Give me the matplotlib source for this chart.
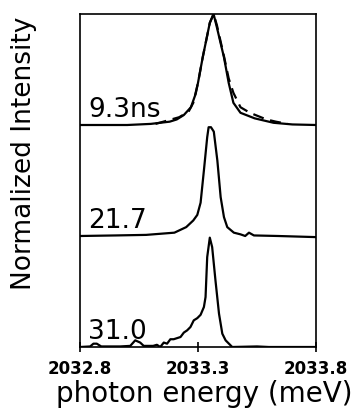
import matplotlib
matplotlib.use("Agg")
import matplotlib.pyplot as plt

# spectra (photon energy in meV, normalized intensity)
e_93 = [2032.80, 2033.00, 2033.10, 2033.14, 2033.18, 2033.21, 2033.24, 2033.27,
        2033.29, 2033.30, 2033.32, 2033.35, 2033.366, 2033.38, 2033.41, 2033.43,
        2033.45, 2033.48, 2033.54, 2033.62, 2033.70, 2033.80]
i_93 = [0.0, 0.0, 0.01, 0.02, 0.03, 0.05, 0.09, 0.16,
        0.28, 0.38, 0.61, 0.92, 1.0, 0.88, 0.61, 0.38,
        0.20, 0.11, 0.06, 0.02, 0.005, 0.0]

e_fit = [2033.12, 2033.17, 2033.22, 2033.26, 2033.28, 2033.30, 2033.32, 2033.35,
         2033.366, 2033.38, 2033.41, 2033.43, 2033.45, 2033.48, 2033.52, 2033.59,
         2033.63, 2033.68]
i_fit = [0.01, 0.04, 0.07, 0.12, 0.20, 0.38, 0.61, 0.92,
         1.0, 0.90, 0.62, 0.42, 0.29, 0.16, 0.11, 0.05,
         0.03, 0.01]

e_217 = [2032.80, 2032.95, 2033.08, 2033.14, 2033.20, 2033.25, 2033.28, 2033.297,
         2033.311, 2033.325, 2033.339, 2033.345, 2033.355, 2033.367, 2033.382,
         2033.396, 2033.41, 2033.424, 2033.452, 2033.48, 2033.50, 2033.516,
         2033.537, 2033.64, 2033.80]
i_217 = [0.0, 0.005, 0.01, 0.02, 0.03, 0.08, 0.14, 0.19,
         0.30, 0.59, 0.89, 0.98, 0.98, 0.94, 0.68,
         0.35, 0.17, 0.08, 0.03, 0.015, 0.0, 0.03,
         0.005, 0.0, -0.01]

e_310 = [2032.80, 2032.843, 2032.857, 2032.871, 2032.89, 2032.93, 2032.97, 2033.013,
         2033.034, 2033.055, 2033.07, 2033.084, 2033.11, 2033.126, 2033.14, 2033.155,
         2033.169, 2033.183, 2033.197, 2033.226, 2033.24, 2033.254, 2033.268,
         2033.282, 2033.297, 2033.311, 2033.325, 2033.332, 2033.339, 2033.350,
         2033.360, 2033.374, 2033.389, 2033.403, 2033.417, 2033.431, 2033.445,
         2033.55, 2033.60, 2033.80]
i_310 = [0.0, 0.005, 0.03, 0.03, 0.005, 0.005, 0.005, 0.01,
         0.06, 0.04, 0.01, 0.01, 0.01, 0.02, 0.0, 0.04,
         0.03, 0.07, 0.07, 0.09, 0.13, 0.15, 0.18,
         0.24, 0.26, 0.29, 0.36, 0.45, 0.81, 0.985,
         0.90, 0.60, 0.30, 0.12, 0.06, 0.03, 0.0,
         0.005, 0.0, 0.0]

labels = ["9.3ns", "21.7", "31.0"]
offsets = [2, 1, 0]
xticks = [2032.8, 2033.3, 2033.8]

fig = plt.figure(figsize=(3.62, 4.11), dpi=100)
ax = fig.add_axes([80 / 362, 1 - 347 / 411, 236 / 362, 333 / 411])

lw = 1.6
ax.plot(e_93, [v + offsets[0] for v in i_93], color="black", lw=lw)
ax.plot(e_fit, [v + offsets[0] for v in i_fit], color="black", lw=lw,
        ls=(0, (5, 3)))
ax.plot(e_217, [v + offsets[1] for v in i_217], color="black", lw=lw)
ax.plot(e_310, [v + offsets[2] for v in i_310], color="black", lw=lw)

for lab, off in zip(labels, offsets):
    ax.text(2032.834, off + 0.075, lab, fontsize=19, va="baseline", ha="left")

ax.set_xlim(2032.8, 2033.8)
ax.set_ylim(0, 3)
ax.set_xticks(xticks)
ax.set_xticklabels([f"{t:.1f}" for t in xticks], fontsize=12, fontweight="bold")
ax.set_yticks([])
ax.tick_params(axis="x", direction="inout", length=7, width=1.2, pad=6)
for s in ax.spines.values():
    s.set_linewidth(1.2)

fig.text(24 / 362, 1 - 153 / 411, "Normalized Intensity", rotation=90,
         fontsize=19, ha="center", va="center")
fig.text(204 / 362, 1 - 394 / 411, "photon energy (meV)", fontsize=20,
         ha="center", va="center")

fig.savefig("out.png", dpi=100)
